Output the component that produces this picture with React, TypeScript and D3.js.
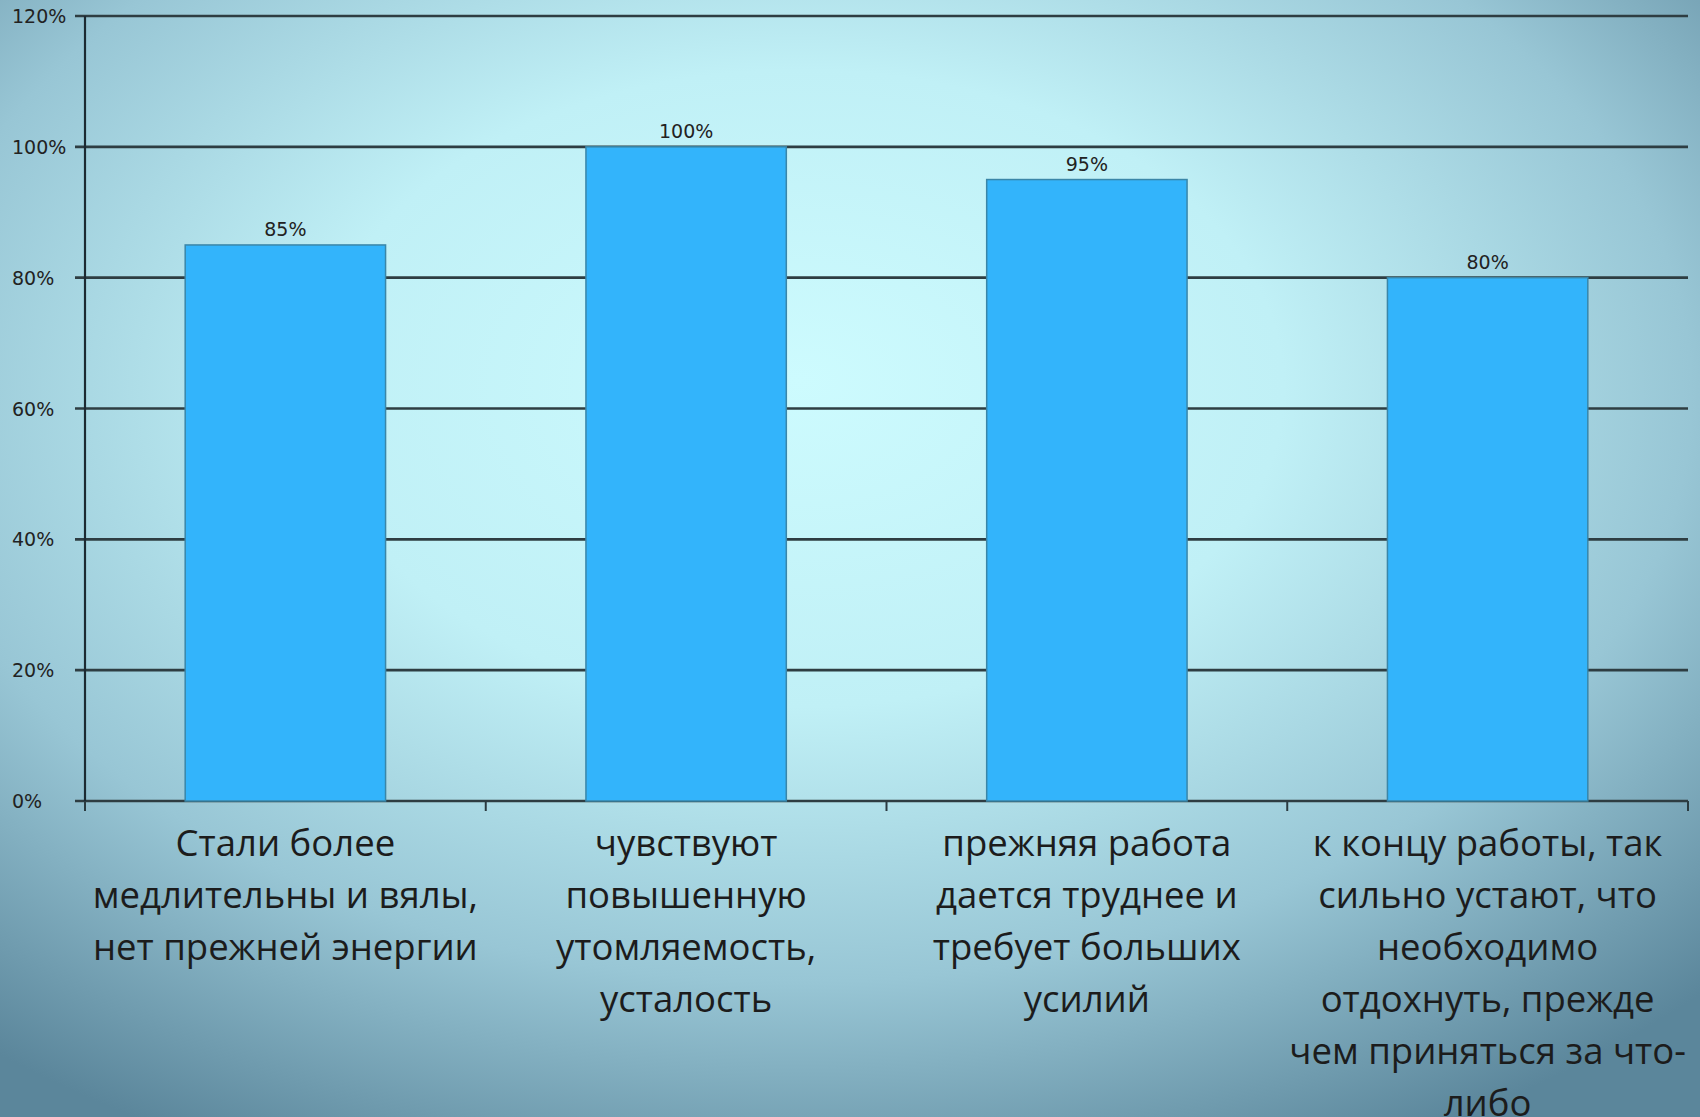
import React from "react";
import * as d3 from "d3";

const categories: string[][] = [
  ["Стали более", "медлительны и вялы,", "нет прежней энергии"],
  ["чувствуют", "повышенную", "утомляемость,", "усталость"],
  ["прежняя работа", "дается труднее и", "требует больших", "усилий"],
  ["к концу работы, так", "сильно устают, что", "необходимо", "отдохнуть, прежде", "чем приняться за что-", "либо"],
];
const values: number[] = [85, 100, 95, 80];
const yTicks: number[] = [0, 20, 40, 60, 80, 100, 120];

const W = 1700;
const H = 1117;
const left = 85;
const right = 1688;
const top = 16;
const bottom = 801;

export default function App() {
  const x = d3
    .scaleBand<number>()
    .domain(values.map((_, i) => i))
    .range([left, right])
    .paddingInner(0.5)
    .paddingOuter(0.25);
  const y = d3.scaleLinear().domain([0, 120]).range([bottom, top]);
  const step = (right - left) / values.length;
  const catTicks = d3.range(values.length + 1).map((i) => left + i * step);

  return (
    <svg
      width={W}
      height={H}
      style={{ position: "absolute", left: 0, top: 0 }}
    >
      <defs>
        <radialGradient id="bg" cx="0.47" cy="0.36" r="0.75" fx="0.47" fy="0.34">
          <stop offset="0" stopColor="#cdfbfe" />
          <stop offset="0.38" stopColor="#c0f0f6" />
          <stop offset="0.7" stopColor="#98c6d5" />
          <stop offset="1" stopColor="#5b869b" />
        </radialGradient>
        <filter id="soft" x="-5%" y="-50%" width="110%" height="200%">
          <feGaussianBlur stdDeviation="0.7" />
        </filter>
      </defs>
      <rect x={0} y={0} width={W} height={H} fill="url(#bg)" />

      {/* gridlines */}
      <g filter="url(#soft)">
        {yTicks.map((t) => (
          <line
            key={t}
            x1={left - 10}
            x2={right}
            y1={y(t)}
            y2={y(t)}
            stroke="#2e3c42"
            strokeWidth={2.6}
          />
        ))}
        <line x1={left} x2={left} y1={top} y2={bottom} stroke="#1e2a30" strokeWidth={2.2} />
        {catTicks.map((cx, i) => (
          <line key={i} x1={cx} x2={cx} y1={bottom} y2={bottom + 10} stroke="#2c3a40" strokeWidth={2} />
        ))}
      </g>

      {/* bars */}
      {values.map((v, i) => (
        <g key={i}>
          <rect
            x={x(i)}
            y={y(v)}
            width={x.bandwidth()}
            height={y(0) - y(v)}
            fill="#33b4fb"
            stroke="#3a86a8"
            strokeWidth={1.5}
          />
          <text
            x={(x(i) as number) + x.bandwidth() / 2}
            y={y(v) - 9}
            textAnchor="middle"
            fontFamily="DejaVu Sans"
            fontSize={19}
            fill="#222"
          >
            {v}%
          </text>
        </g>
      ))}

      {/* y tick labels */}
      {yTicks.map((t) => (
        <text
          key={t}
          x={12}
          y={y(t) + 7}
          textAnchor="start"
          fontFamily="DejaVu Sans"
          fontSize={19}
          fill="#222"
        >
          {t}%
        </text>
      ))}

      {/* category labels */}
      {categories.map((lines, i) => (
        <text
          key={i}
          x={(x(i) as number) + x.bandwidth() / 2}
          y={856}
          textAnchor="middle"
          fontFamily="Open Sans"
          fontSize={36.5}
          fill="#1c1c1c"
        >
          {lines.map((ln, j) => (
            <tspan key={j} x={(x(i) as number) + x.bandwidth() / 2} dy={j === 0 ? 0 : 52}>
              {ln}
            </tspan>
          ))}
        </text>
      ))}
    </svg>
  );
}
